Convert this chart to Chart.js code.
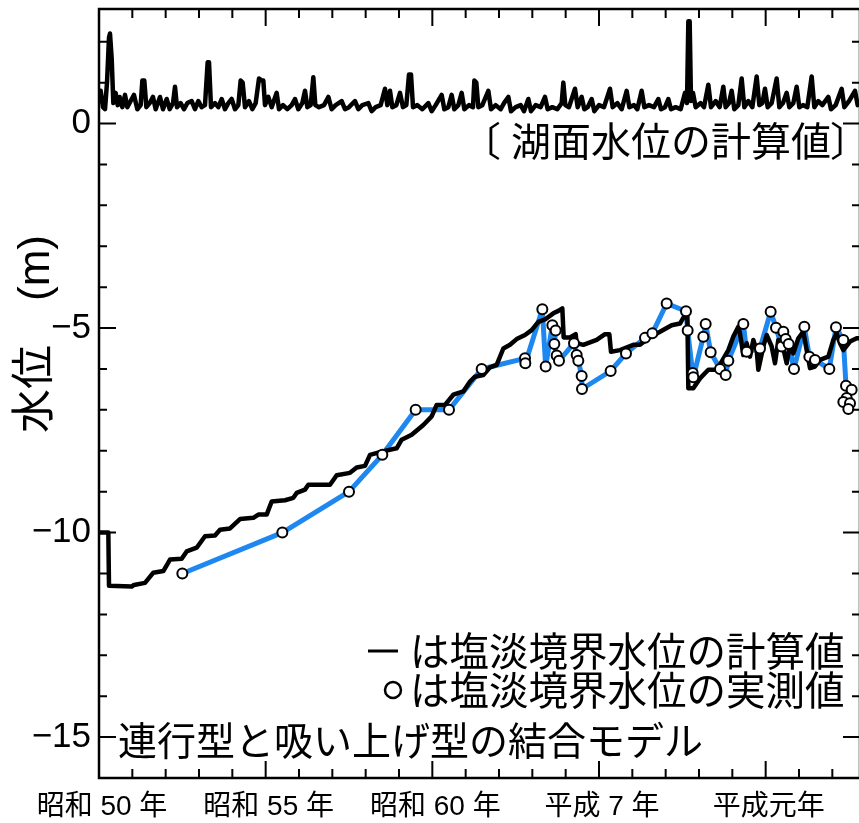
<!DOCTYPE html>
<html>
<head>
<meta charset="utf-8">
<script src="https://cdn.jsdelivr.net/npm/chart.js"></script>
<style>
  html, body { margin: 0; padding: 0; background: #fff; overflow: hidden; }
  #levelChart { display: block; }
</style>
</head>
<body>
<canvas id="levelChart" width="862" height="823"></canvas>
<script>
// x values are years since 昭和50年
// 湖面水位の計算値
const lakeYears = [0.00, 0.05, 0.12, 0.18, 0.24, 0.30, 0.33, 0.38, 0.43, 0.50, 0.56, 0.62, 0.70, 0.78, 0.85, 0.95,
  1.05, 1.15, 1.25, 1.30, 1.36, 1.42, 1.52, 1.62, 1.70, 1.83, 1.92, 2.03, 2.12, 2.22, 2.28, 2.34, 2.45, 2.55, 2.65,
  2.78, 2.88, 2.98, 3.08, 3.18, 3.26, 3.30, 3.36, 3.48, 3.58, 3.68, 3.78, 3.88, 3.98, 4.08, 4.18, 4.25, 4.31, 4.38,
  4.50, 4.60, 4.70, 4.80, 4.88, 4.93, 4.98, 5.08, 5.18, 5.33, 5.40, 5.52, 5.65, 5.78, 5.88, 5.98, 6.10, 6.18, 6.25,
  6.35, 6.43, 6.49, 6.60, 6.75, 6.88, 6.98, 7.10, 7.28, 7.38, 7.50, 7.68, 7.78, 7.90, 8.08, 8.18, 8.30, 8.45, 8.58,
  8.65, 8.73, 8.80, 8.92, 9.03, 9.12, 9.22, 9.30, 9.36, 9.42, 9.55, 9.70, 9.88, 9.98, 10.10, 10.28, 10.36, 10.48,
  10.58, 10.66, 10.78, 10.88, 10.96, 11.10, 11.22, 11.26, 11.32, 11.38, 11.50, 11.68, 11.76, 11.90, 12.05, 12.15,
  12.28, 12.36, 12.50, 12.65, 12.75, 12.88, 12.96, 13.10, 13.25, 13.38, 13.46, 13.60, 13.75, 13.88, 13.93, 13.99,
  14.10, 14.28, 14.36, 14.48, 14.56, 14.66, 14.78, 14.86, 15.00, 15.15, 15.33, 15.41, 15.55, 15.68, 15.83, 15.91,
  16.05, 16.15, 16.28, 16.36, 16.50, 16.65, 16.78, 16.86, 16.98, 17.08, 17.16, 17.30, 17.45, 17.58, 17.64, 17.68,
  17.72, 17.76, 17.82, 17.90, 18.05, 18.15, 18.28, 18.36, 18.50, 18.62, 18.73, 18.80, 18.90, 18.98, 19.06, 19.18,
  19.28, 19.36, 19.48, 19.60, 19.73, 19.81, 19.90, 19.98, 20.06, 20.18, 20.33, 20.41, 20.52, 20.63, 20.71, 20.83,
  20.93, 21.01, 21.12, 21.25, 21.38, 21.46, 21.58, 21.70, 21.88, 21.96, 22.10, 22.28, 22.36, 22.50, 22.68, 22.76, 22.85];
const lakeLevels = [0.55, 0.80, 0.40, 0.35, 1.00, 2.10, 2.20, 1.60, 0.50, 0.75, 0.45, 0.65, 0.40, 0.70, 0.40, 0.55,
  0.70, 0.35, 0.45, 1.05, 1.05, 0.40, 0.50, 0.65, 0.35, 0.65, 0.35, 0.60, 0.35, 0.50, 0.90, 0.40, 0.50, 0.35, 0.50,
  0.55, 0.35, 0.55, 0.40, 0.45, 1.50, 1.50, 0.40, 0.50, 0.40, 0.60, 0.35, 0.50, 0.60, 0.35, 0.45, 1.05, 1.00, 0.40,
  0.55, 0.35, 0.50, 1.10, 1.05, 1.05, 0.45, 0.65, 0.40, 0.75, 0.35, 0.45, 0.35, 0.45, 0.60, 0.35, 0.50, 0.80, 0.40,
  0.45, 1.13, 0.45, 0.40, 0.45, 0.65, 0.35, 0.45, 0.55, 0.35, 0.40, 0.55, 0.35, 0.45, 0.50, 0.30, 0.40, 0.45, 0.85,
  0.45, 0.80, 0.40, 0.45, 0.75, 0.40, 0.45, 1.20, 1.20, 0.40, 0.45, 0.35, 0.50, 0.30, 0.45, 0.70, 0.35, 0.40,
  0.70, 0.35, 0.45, 0.75, 0.35, 0.45, 0.40, 1.05, 1.00, 0.40, 0.45, 0.80, 0.35, 0.45, 0.35, 0.50,
  0.65, 0.30, 0.40, 0.45, 0.30, 0.60, 0.30, 0.45, 0.40, 0.65, 0.35, 0.40, 0.35, 0.50, 1.00, 0.45,
  0.40, 0.85, 0.40, 0.65, 0.35, 0.40, 0.60, 0.30, 0.45, 0.40, 0.85, 0.40, 0.50, 0.35, 0.80, 0.40,
  0.45, 0.35, 0.80, 0.40, 0.45, 0.40, 0.60, 0.35, 0.40, 0.60, 0.35, 0.40, 0.35, 0.75, 0.50, 2.50,
  2.50, 0.55, 0.75, 0.40, 0.50, 0.40, 0.95, 0.40, 0.55, 0.40, 0.90, 0.40, 0.50, 0.80, 0.35, 0.45,
  1.10, 0.40, 0.55, 0.40, 1.15, 0.45, 0.50, 0.85, 0.40, 0.50, 1.10, 0.40, 0.50, 0.75, 0.40, 0.50,
  0.90, 0.40, 0.45, 0.40, 1.15, 0.40, 0.55, 0.45, 0.65, 0.35, 0.45, 0.85, 0.40, 0.55, 0.80, 0.45, 0.55];

// 塩淡境界水位の計算値
const calcYears = [0.00, 0.28, 0.30, 0.98, 1.05, 1.38, 1.63, 1.93, 2.13, 2.48, 2.63, 2.93, 3.18, 3.48, 3.63, 3.93,
  4.23, 4.63, 4.78, 5.03, 5.18, 5.58, 5.83, 5.93, 6.18, 6.28, 6.93, 7.13, 7.53, 7.73, 7.98, 8.13, 8.48, 8.93, 9.08,
  9.38, 9.73, 9.98, 10.13, 10.38, 10.63, 10.93, 11.13, 11.28, 11.53, 11.73, 11.93, 12.13, 12.33, 12.53, 12.78, 12.98,
  13.18, 13.38, 13.63, 13.78, 13.90, 13.94, 14.13, 14.30, 14.33, 14.53, 14.93, 15.18, 15.31, 15.36, 15.63, 16.03,
  16.23, 16.48, 16.83, 17.18, 17.43, 17.58, 17.65, 17.68, 17.83, 18.03, 18.28, 18.53, 18.68, 18.88, 19.03, 19.18,
  19.23, 19.33, 19.43, 19.53, 19.63, 19.73, 19.78, 19.93, 20.03, 20.18, 20.28, 20.38, 20.53, 20.63, 20.73, 20.83,
  20.98, 21.13, 21.23, 21.33, 21.48, 21.63, 21.88, 22.03, 22.13, 22.23, 22.33, 22.53, 22.73, 22.85];
const calcLevels = [-10.0, -10.0, -11.3, -11.32, -11.28, -11.23, -10.98, -10.94, -10.66, -10.64, -10.46, -10.37,
  -10.09, -10.07, -9.93, -9.90, -9.67, -9.64, -9.56, -9.56, -9.24, -9.21, -9.15, -9.03, -8.95, -8.83, -8.83, -8.60,
  -8.54, -8.41, -8.37, -8.10, -8.02, -7.94, -7.73, -7.61, -7.37, -7.16, -6.88, -6.88, -6.63, -6.55, -6.31, -6.19,
  -6.15, -5.96, -5.90, -5.50, -5.41, -5.27, -5.17, -5.05, -4.85, -4.79, -4.64, -4.58, -4.52, -5.23, -5.23, -5.15,
  -5.37, -5.41, -5.29, -5.15, -5.15, -5.58, -5.54, -5.41, -5.41, -5.25, -5.09, -4.93, -4.89, -4.68, -4.64, -6.47,
  -6.47, -6.23, -6.02, -6.02, -5.82, -5.54, -5.21, -4.97, -5.13, -5.66, -5.37, -5.70, -5.29, -5.54, -6.02, -5.45,
  -5.17, -5.45, -5.86, -5.29, -5.50, -5.86, -5.41, -5.62, -5.25, -5.09, -5.54, -5.98, -5.94, -5.78, -5.70, -5.29,
  -5.13, -5.37, -5.54, -5.33, -5.25, -5.25];

// 塩淡境界水位の実測値
const obsYears = [2.50, 5.50, 7.50, 8.50, 9.50, 10.50, 11.48, 12.78, 12.79, 13.30, 13.40, 13.60, 13.70, 13.66, 13.73,
  13.80, 14.25, 14.33, 14.38, 14.48, 14.49, 15.35, 15.81, 16.38, 16.60, 17.03, 17.61, 17.66, 17.81, 17.83, 18.13,
  18.20, 18.35, 18.63, 18.80, 18.88, 19.33, 19.43, 19.83, 20.15, 20.31, 20.48, 20.53, 20.60, 20.69, 20.85, 21.16,
  21.31, 21.48, 21.91, 22.11, 22.33, 22.41, 22.58, 22.43, 22.33, 22.53, 22.48];
const obsLevels = [-11.0, -10.0, -9.0, -8.1, -7.0, -7.0, -6.0, -5.74, -5.86, -4.54, -5.94, -4.93, -5.06, -5.39, -5.67,
  -5.80, -5.37, -5.66, -5.80, -6.17, -6.49, -6.05, -5.62, -5.24, -5.13, -4.40, -4.59, -5.06, -6.10, -6.20, -5.21,
  -4.90, -5.59, -6.00, -6.15, -5.80, -4.90, -5.58, -5.50, -4.60, -4.99, -5.45, -5.09, -5.27, -5.39, -6.00, -4.97,
  -5.70, -5.78, -6.00, -4.98, -5.29, -6.41, -6.51, -6.71, -6.81, -6.84, -6.98];

// tick labels
const yearTicks = [0, 5, 10, 15, 20];
const yearLabels = ['昭和 50 年', '昭和 55 年', '昭和 60 年', '平成 7 年', '平成元年'];
const levelTicks = [0, -5, -10, -15];
const levelLabels = ['0', '−5', '−10', '−15'];

const numFont = '"Liberation Sans", Arial, "Noto Sans CJK JP", sans-serif';
const jpFont = '"Noto Sans CJK JP", "Liberation Sans", sans-serif';

function toPoints(xs, ys) {
  return xs.map((x, i) => ({ x: x, y: ys[i] }));
}

function findLabel(ticks, labels, v) {
  const i = ticks.findIndex(t => Math.abs(t - v) < 1e-6);
  return i >= 0 ? labels[i] : '';
}

// frame, inward ticks and the text notes
const framePlugin = {
  id: 'frame',
  afterDraw(chart) {
    const { ctx, chartArea: a, scales } = chart;
    const x = scales.x, y = scales.y;
    ctx.save();
    ctx.strokeStyle = '#000';
    ctx.lineWidth = 2.5;
    ctx.strokeRect(a.left, a.top, a.right - a.left, a.bottom - a.top);

    ctx.lineWidth = 2;
    ctx.beginPath();
    for (let t = 0; t <= 22; t++) {
      const px = x.getPixelForValue(t);
      const len = t % 5 === 0 ? 17 : 9;
      ctx.moveTo(px, a.bottom); ctx.lineTo(px, a.bottom - len);
      ctx.moveTo(px, a.top); ctx.lineTo(px, a.top + len);
    }
    for (let v = -15; v <= 2; v++) {
      const py = y.getPixelForValue(v);
      const len = v % 5 === 0 ? 17 : 8;
      ctx.moveTo(a.left, py); ctx.lineTo(a.left + len, py);
      ctx.moveTo(a.right, py); ctx.lineTo(a.right - len, py);
    }
    ctx.stroke();

    // y axis title
    ctx.fillStyle = '#000';
    ctx.save();
    ctx.translate(37, 334);
    ctx.rotate(-Math.PI / 2);
    ctx.font = '44px ' + numFont;
    ctx.textAlign = 'center';
    ctx.textBaseline = 'middle';
    ctx.fillText('水位　(m)', 0, 0);
    ctx.restore();

    ctx.textBaseline = 'middle';
    ctx.textAlign = 'left';
    ctx.font = '40px ' + jpFont;
    ctx.fillText('〔', 461, 141);
    ctx.fillText('湖面水位の計算値', 511, 141);
    ctx.fillText('〕', 830, 141);

    ctx.font = '39px ' + jpFont;
    ctx.fillText('連行型と吸い上げ型の結合モデル', 118, 740);

    ctx.font = '39.5px ' + jpFont;
    ctx.fillText('は塩淡境界水位の計算値', 410, 651);
    ctx.fillText('は塩淡境界水位の実測値', 410, 690);

    // legend symbols
    ctx.lineWidth = 3;
    ctx.beginPath();
    ctx.moveTo(368, 651); ctx.lineTo(398, 651);
    ctx.stroke();
    ctx.lineWidth = 2.5;
    ctx.beginPath();
    ctx.arc(393, 690, 8, 0, Math.PI * 2);
    ctx.stroke();
    ctx.restore();
  }
};

const lineStyle = { pointRadius: 0, tension: 0, borderJoinStyle: 'round', borderCapStyle: 'round' };

const ctx = document.getElementById('levelChart').getContext('2d');
const levelChart = new Chart(ctx, {
  type: 'line',
  data: {
    datasets: [
      {
        label: '実測値',
        data: toPoints(obsYears, obsLevels),
        showLine: false,
        pointRadius: 5,
        pointBorderWidth: 2,
        pointBackgroundColor: '#fff',
        pointBorderColor: '#000'
      },
      Object.assign({
        label: '計算値',
        data: toPoints(calcYears, calcLevels),
        borderColor: '#000',
        borderWidth: 4.5
      }, lineStyle),
      Object.assign({
        label: '湖面水位',
        data: toPoints(lakeYears, lakeLevels),
        borderColor: '#000',
        borderWidth: 4.5
      }, lineStyle),
      Object.assign({
        label: '実測線',
        data: toPoints(obsYears, obsLevels),
        borderColor: '#1E88F0',
        borderWidth: 5
      }, lineStyle)
    ]
  },
  options: {
    responsive: false,
    animation: false,
    layout: { autoPadding: false, padding: { top: 9, right: 2, left: 0, bottom: 0 } },
    plugins: {
      legend: { display: false },
      tooltip: { enabled: false }
    },
    scales: {
      x: {
        type: 'linear',
        min: 0,
        max: 22.83,
        grid: { display: false, drawTicks: false },
        border: { display: false },
        afterFit: s => { s.height = 45; s.paddingLeft = 0; s.paddingRight = 0; },
        ticks: {
          stepSize: 1,
          autoSkip: false,
          maxRotation: 0,
          padding: 12,
          labelOffset: 3,
          color: '#000',
          font: { family: numFont, size: 28 },
          callback: v => findLabel(yearTicks, yearLabels, v)
        }
      },
      y: {
        min: -16,
        max: 2.8,
        grid: { display: false, drawTicks: false },
        border: { display: false },
        afterFit: s => { s.width = 99; s.paddingTop = 0; s.paddingBottom = 0; },
        ticks: {
          stepSize: 1,
          autoSkip: false,
          padding: 8,
          color: '#000',
          font: { family: numFont, size: 35 },
          callback: v => findLabel(levelTicks, levelLabels, v)
        }
      }
    }
  },
  plugins: [framePlugin]
});
</script>
</body>
</html>
